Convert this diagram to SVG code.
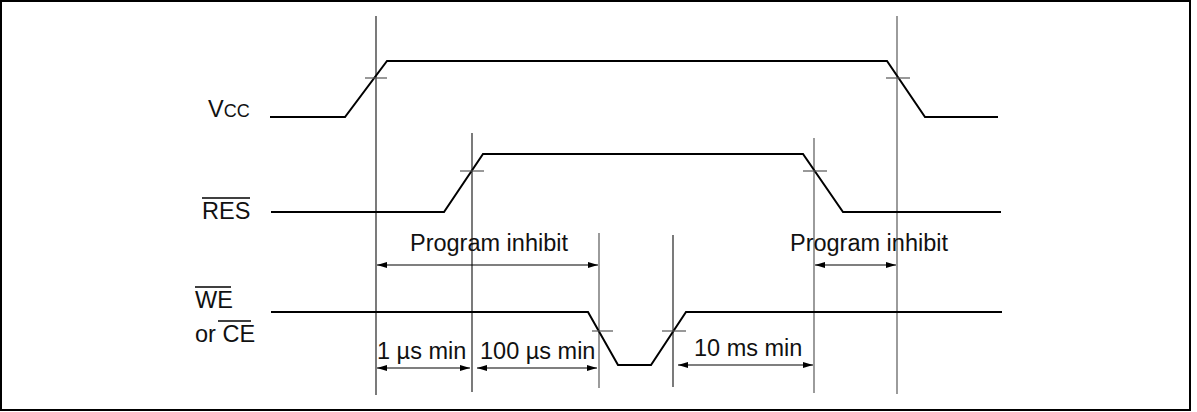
<svg xmlns="http://www.w3.org/2000/svg" width="1197" height="412" viewBox="0 0 1197 412">
<style>
text{font-family:"Liberation Sans",Arial,sans-serif;font-size:23.5px;fill:#111}
.wave{fill:none;stroke:#000;stroke-width:2;stroke-linejoin:miter}
.grid{stroke:#666;stroke-width:1.3}
.gridd{stroke:#222;stroke-width:1.2}
.tick{stroke:#555;stroke-width:1.2}
.dim{stroke:#000;stroke-width:1.2;marker-start:url(#ah);marker-end:url(#ah)}
.ov{stroke:#000;stroke-width:1.3}
</style>
<defs>
<marker id="ah" viewBox="0 0 10 6" refX="10" refY="3" markerWidth="10" markerHeight="6" markerUnits="userSpaceOnUse" orient="auto-start-reverse">
<path d="M0,0 L10,3 L0,6 Z" fill="#000"/>
</marker>
</defs>
<rect x="1" y="1" width="1189" height="409" fill="#fff" stroke="#000" stroke-width="2"/>
<g id="guides">
<line class="gridd" x1="376" y1="16" x2="376" y2="395"/>
<line class="gridd" x1="472" y1="133" x2="472" y2="392"/>
<line class="grid" x1="599" y1="233" x2="599" y2="388"/>
<line class="gridd" x1="673" y1="235" x2="673" y2="387"/>
<line class="grid" x1="814" y1="138" x2="814" y2="393"/>
<line class="grid" x1="897" y1="16" x2="897" y2="394"/>
</g>
<g id="vcc">
<polyline class="wave" points="270,117 345,117 387,61 887,61 925,117 998,117"/>
<line class="tick" x1="365" y1="78" x2="387" y2="78"/>
<line class="tick" x1="886" y1="78" x2="910" y2="78"/>
<text x="208" y="117">V<tspan font-size="18">CC</tspan></text>
</g>
<g id="res">
<polyline class="wave" points="271,212 444,212 483,154 803,154 843,212 1001,212"/>
<line class="tick" x1="460" y1="171" x2="484" y2="171"/>
<line class="tick" x1="803" y1="171" x2="827" y2="171"/>
<text x="202" y="219">RES</text>
<line class="ov" x1="202" y1="198" x2="250" y2="198"/>
</g>
<g id="we">
<polyline class="wave" points="271,312 588,312 618,365 651,365 686,312 1002,312"/>
<line class="tick" x1="592" y1="331" x2="613" y2="331"/>
<line class="tick" x1="662" y1="331" x2="686" y2="331"/>
<text x="195" y="308">WE</text>
<line class="ov" x1="195" y1="287" x2="231" y2="287"/>
<text x="195" y="342">or CE</text>
<line class="ov" x1="218" y1="321" x2="251" y2="321"/>
</g>
<g id="connectors">
<line class="dim" x1="377" y1="265" x2="598" y2="265"/>
<line class="dim" x1="815" y1="265" x2="896" y2="265"/>
<line class="dim" x1="377" y1="368" x2="470" y2="368"/>
<line class="dim" x1="477" y1="368" x2="597" y2="368"/>
<line class="dim" x1="678" y1="365" x2="813" y2="365"/>
</g>
<g id="labels">
<text x="489" y="251" text-anchor="middle">Program inhibit</text>
<text x="869" y="251" text-anchor="middle">Program inhibit</text>
<text x="377" y="359">1 µs min</text>
<text x="480" y="359">100 µs min</text>
<text x="694" y="356">10 ms min</text>
</g>
</svg>
